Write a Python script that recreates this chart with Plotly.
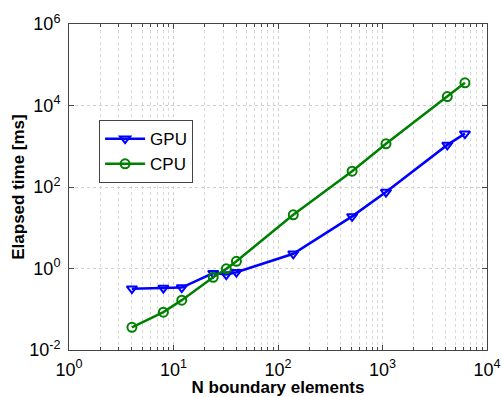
import plotly.graph_objects as go

n_elements = [4, 8, 12, 24, 32, 40, 140, 512, 1080, 4170, 6150]
gpu_ms = [0.32, 0.33, 0.34, 0.77, 0.71, 0.81, 2.3, 19, 75, 1080, 2040]
cpu_ms = [0.036, 0.085, 0.167, 0.61, 0.98, 1.5, 20.8, 245, 1150, 16600, 36000]
x_ticks = [1, 10, 100, 1000, 10000]
x_tick_text = ["10<sup>0</sup>", "10<sup>1</sup>", "10<sup>2</sup>", "10<sup>3</sup>", "10<sup>4</sup>"]
y_ticks = [0.01, 1, 100, 10000, 1000000]
y_tick_text = ["10<sup>-2</sup>", "10<sup>0</sup>", "10<sup>2</sup>", "10<sup>4</sup>", "10<sup>6</sup>"]
x_minor = [m * d for d in [1, 10, 100, 1000] for m in range(2, 10)]

FONT = "Liberation Sans, Arial"

fig = go.Figure()
fig.add_trace(go.Scatter(x=n_elements, y=gpu_ms, name="GPU", mode="lines+markers",
                         line=dict(color="#0000ff", width=2.5),
                         marker=dict(symbol="triangle-down-open", size=9, color="#0000ff",
                                     line=dict(width=2, color="#0000ff"))))
fig.add_trace(go.Scatter(x=n_elements, y=cpu_ms, name="CPU", mode="lines+markers",
                         line=dict(color="#008000", width=2.5),
                         marker=dict(symbol="circle-open", size=9, color="#008000",
                                     line=dict(width=2, color="#008000"))))

axis_common = dict(
    type="log", showline=True, linecolor="#444", linewidth=1, mirror="allticks",
    ticks="inside", ticklen=5, tickcolor="#444",
    showgrid=True, gridcolor="#cfcfcf", griddash="dot", gridwidth=1,
    zeroline=False, automargin=False,
    tickfont=dict(family=FONT, size=18, color="#000"),
)

fig.update_xaxes(**axis_common, range=[0, 4], tickmode="array", tickvals=x_ticks, ticktext=x_tick_text,
                 ticklabelstandoff=3,
                 minor=dict(tickmode="array", tickvals=x_minor, ticks="inside", ticklen=3,
                            tickcolor="#444", showgrid=True, gridcolor="#d8d8d8", griddash="dot"),
                 title=dict(text="<b>N boundary elements</b>", standoff=4,
                            font=dict(family=FONT, size=17, color="#000")))
fig.update_yaxes(**axis_common, range=[-2, 6], tickmode="array", tickvals=y_ticks, ticktext=y_tick_text,
                 ticklabelstandoff=4,
                 title=dict(text="<b>Elapsed time [ms]</b>", standoff=0,
                            font=dict(family=FONT, size=17, color="#000")))

fig.update_layout(
    width=502, height=397, margin=dict(l=69, r=15, t=24, b=47),
    paper_bgcolor="white", plot_bgcolor="white",
    showlegend=True,
    legend=dict(x=0.072, y=0.705, xanchor="left", yanchor="top",
                bgcolor="white", bordercolor="#444", borderwidth=1,
                font=dict(family=FONT, size=17, color="#000"),
                tracegroupgap=0, itemwidth=40),
)

fig.write_html("out.html")
